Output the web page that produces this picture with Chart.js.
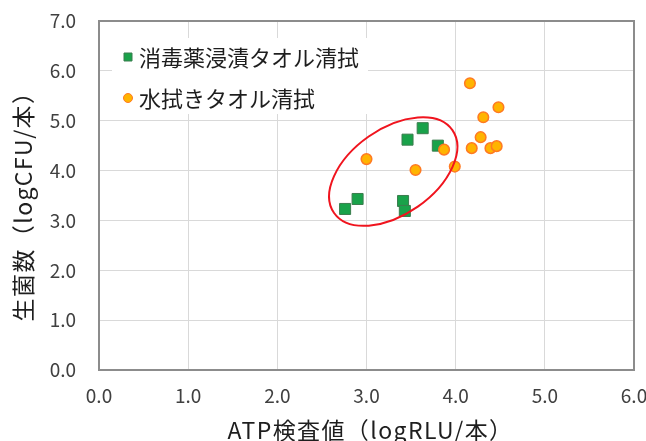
<!DOCTYPE html>
<html lang="ja">
<head>
<meta charset="utf-8">
<title>ATP検査値と生菌数</title>
<script src="https://cdn.jsdelivr.net/npm/chart.js@4/dist/chart.umd.min.js"></script>
<style>
  html, body { margin: 0; padding: 0; background: #ffffff; }
  canvas { display: block; }
</style>
</head>
<body>
<canvas id="chart" width="646" height="441"></canvas>
<script>
// 消毒薬浸漬タオル清拭: ATP検査値 (logRLU/本) と 生菌数 (logCFU/本)
const disinfectantAtp = [2.76, 2.90, 3.41, 3.43, 3.46, 3.63, 3.80];
const disinfectantCfu = [3.23, 3.43, 3.39, 3.19, 4.62, 4.85, 4.50];

// 水拭きタオル清拭
const waterAtp = [3.00, 3.55, 3.87, 3.99, 4.16, 4.48, 4.31, 4.28, 4.18, 4.39, 4.46];
const waterCfu = [4.23, 4.01, 4.42, 4.08, 5.75, 5.27, 5.07, 4.67, 4.45, 4.45, 4.49];

const seriesLabels = ['消毒薬浸漬タオル清拭', '水拭きタオル清拭'];
const xTitle = 'ATP検査値（logRLU/本）';
const yTitle = '生菌数（logCFU/本）';
const xRange = [0, 6];
const yRange = [0, 7];

// 囲み楕円 (中心はデータ座標、半径は x 軸の目盛単位)
const groupEllipse = { cx: 3.30, cy: 3.98, rx: 0.81, ry: 0.48, angleDeg: -35 };

const FONT = '"Noto Sans CJK JP", "Noto Sans", sans-serif';

function pairs(xs, ys) {
  return xs.map((x, i) => ({ x: x, y: ys[i] }));
}

const frameAndLegend = {
  id: 'frameAndLegend',
  beforeDatasetsDraw(chart) {
    const { ctx, chartArea: a } = chart;
    ctx.save();
    ctx.strokeStyle = '#8c8c8c';
    ctx.lineWidth = 2;
    ctx.strokeRect(a.left, a.top, a.right - a.left, a.bottom - a.top);
    ctx.restore();
  },
  afterDatasetsDraw(chart) {
    const { ctx, chartArea: a, scales } = chart;
    // 楕円
    const e = groupEllipse;
    const cx = scales.x.getPixelForValue(e.cx);
    const cy = scales.y.getPixelForValue(e.cy);
    const unit = scales.x.getPixelForValue(1) - scales.x.getPixelForValue(0);
    ctx.save();
    ctx.strokeStyle = '#f0141e';
    ctx.lineWidth = 2;
    ctx.beginPath();
    ctx.ellipse(cx, cy, e.rx * unit, e.ry * unit, e.angleDeg * Math.PI / 180, 0, Math.PI * 2);
    ctx.stroke();
    ctx.restore();

    // 凡例 (グラフ内左上、白背景)
    const boxX = a.left + 13, boxY = a.top + 17, boxW = 256, boxH = 76;
    ctx.save();
    ctx.fillStyle = '#ffffff';
    ctx.fillRect(boxX, boxY, boxW, boxH);
    ctx.font = '22px ' + FONT;
    ctx.textBaseline = 'middle';
    ctx.textAlign = 'left';
    const rows = [boxY + 19, boxY + 60];
    chart.data.datasets.forEach((ds, i) => {
      const my = rows[i];
      const mx = boxX + 16;
      ctx.fillStyle = ds.backgroundColor;
      ctx.strokeStyle = ds.borderColor;
      ctx.lineWidth = 1;
      ctx.beginPath();
      if (ds.pointStyle === 'rect') {
        ctx.rect(mx - 4, my - 4, 8, 8);
      } else {
        ctx.arc(mx, my, 4.5, 0, Math.PI * 2);
      }
      ctx.fill();
      ctx.stroke();
      ctx.fillStyle = '#1e1e1e';
      ctx.fillText(ds.label, boxX + 27, my + 1);
    });
    ctx.restore();
  },
  afterDraw(chart) {
    // 軸タイトル
    const { ctx, chartArea: a } = chart;
    ctx.save();
    ctx.font = '23px ' + FONT;
    ctx.fillStyle = '#1e1e1e';
    ctx.textAlign = 'center';
    ctx.textBaseline = 'middle';
    if ('letterSpacing' in ctx) ctx.letterSpacing = '1.4px';
    ctx.fillText(xTitle, (a.left + a.right) / 2 + 4, a.bottom + 60);
    ctx.translate(23, (a.top + a.bottom) / 2 + 5);
    ctx.rotate(-Math.PI / 2);
    ctx.fillText(yTitle, 0, 0);
    ctx.restore();
  }
};

new Chart(document.getElementById('chart'), {
  type: 'scatter',
  data: {
    datasets: [
      {
        label: seriesLabels[0],
        data: pairs(disinfectantAtp, disinfectantCfu),
        pointStyle: 'rect',
        pointRadius: 7.8,
        pointHoverRadius: 7.8,
        backgroundColor: '#19a24a',
        borderColor: '#3b7d4e',
        borderWidth: 1,
        order: 1
      },
      {
        label: seriesLabels[1],
        data: pairs(waterAtp, waterCfu),
        pointStyle: 'circle',
        pointRadius: 5.3,
        pointHoverRadius: 5.3,
        backgroundColor: '#ffb400',
        borderColor: '#ff7a22',
        borderWidth: 1.5,
        order: 0
      }
    ]
  },
  options: {
    responsive: false,
    animation: false,
    layout: { padding: { left: 0, top: 21, right: 12, bottom: 0 } },
    plugins: {
      legend: { display: false },
      tooltip: { enabled: false }
    },
    scales: {
      x: {
        type: 'linear',
        min: xRange[0],
        max: xRange[1],
        ticks: {
          stepSize: 1,
          padding: 14,
          color: '#404040',
          font: { family: FONT, size: 19 },
          callback: v => Number(v).toFixed(1)
        },
        grid: { color: '#d9d9d9', lineWidth: 1, drawTicks: false },
        border: { display: false },
        title: { display: false, text: xTitle },
        afterFit(s) { s.height = 71; s.paddingLeft = 0; s.paddingRight = 0; s.paddingTop = 0; s.paddingBottom = 0; }
      },
      y: {
        type: 'linear',
        min: yRange[0],
        max: yRange[1],
        ticks: {
          stepSize: 1,
          padding: 23,
          color: '#404040',
          font: { family: FONT, size: 19 },
          callback: v => Number(v).toFixed(1)
        },
        grid: { color: '#d9d9d9', lineWidth: 1, drawTicks: false },
        border: { display: false },
        title: { display: false, text: yTitle },
        afterFit(s) { s.width = 99; s.paddingTop = 0; s.paddingBottom = 0; s.paddingLeft = 0; s.paddingRight = 0; }
      }
    }
  },
  plugins: [frameAndLegend]
});
</script>
</body>
</html>
